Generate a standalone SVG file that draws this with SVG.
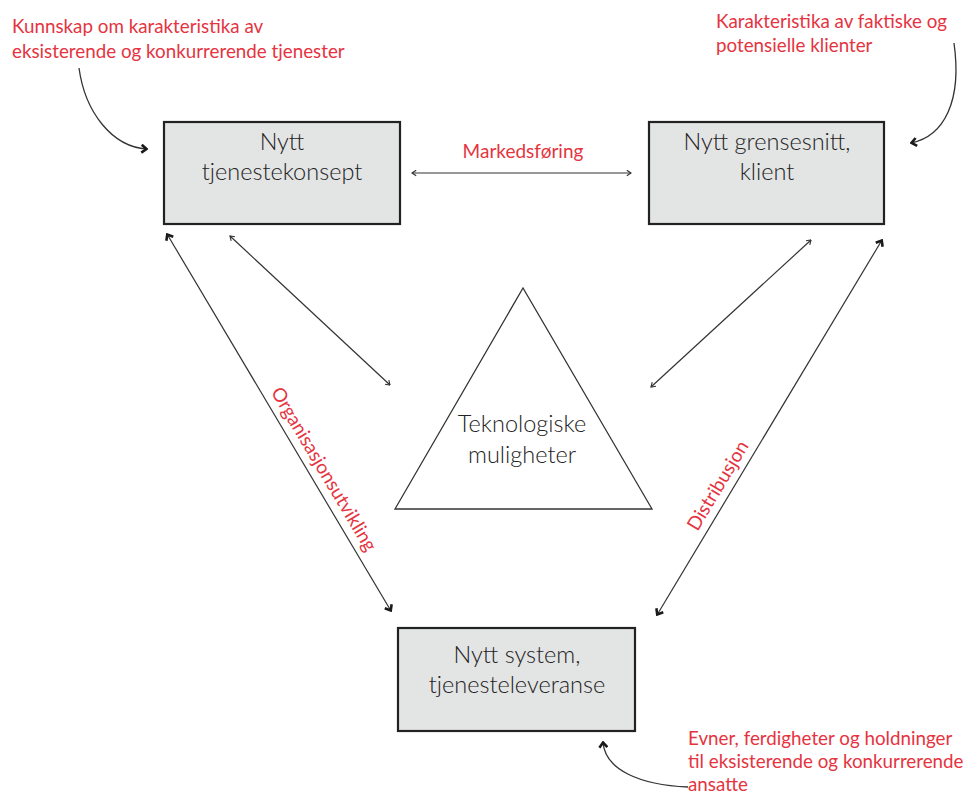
<svg xmlns="http://www.w3.org/2000/svg" width="969" height="795" viewBox="0 0 969 795">
  <style>
    .box { fill: #e3e4e4; stroke: #222; stroke-width: 2.2; }
    .tri { fill: #fff; stroke: #333; stroke-width: 1.3; }
    .nodetxt { font-family: Lato, "Open Sans", sans-serif; font-weight: 300; font-size: 23.5px; fill: #222; text-anchor: middle; }
    .note { font-family: Lato, "Open Sans", sans-serif; font-size: 18.8px; fill: #e5343f; }
    .lbl { font-family: Lato, "Open Sans", sans-serif; font-size: 19px; fill: #e5343f; text-anchor: middle; }
    .thin { fill: none; stroke: #333; stroke-width: 1.2; }
    .curve { fill: none; stroke: #333; stroke-width: 1.3; }
  </style>
  <defs>
    <marker id="head-thin" viewBox="0 0 10 10" refX="9" refY="5" markerWidth="7" markerHeight="7" markerUnits="userSpaceOnUse" orient="auto-start-reverse">
      <path d="M3,1 L9,5 L3,9" fill="none" stroke="#333" stroke-width="1.6"/>
    </marker>
    <marker id="head-bold" viewBox="0 0 10 10" refX="9" refY="5" markerWidth="10" markerHeight="10" markerUnits="userSpaceOnUse" orient="auto-start-reverse">
      <path d="M3.5,1 L8.5,5 L3.5,9" fill="none" stroke="#1a1a1a" stroke-width="2.6" stroke-linejoin="miter"/>
    </marker>
  </defs>

  <!-- connectors -->
  <g id="connectors">
    <line class="thin" x1="412" y1="173" x2="631" y2="173" marker-start="url(#head-thin)" marker-end="url(#head-thin)"/>
    <line class="thin" x1="230" y1="236" x2="390" y2="385" marker-start="url(#head-thin)" marker-end="url(#head-thin)"/>
    <line class="thin" x1="651" y1="387" x2="811" y2="240" marker-start="url(#head-thin)" marker-end="url(#head-thin)"/>
    <line class="thin" x1="167" y1="234" x2="391" y2="611" marker-start="url(#head-bold)" marker-end="url(#head-bold)"/>
    <line class="thin" x1="882" y1="240" x2="657" y2="615" marker-start="url(#head-bold)" marker-end="url(#head-bold)"/>
    <path class="curve" d="M79,68 C85,112 112,147 147,149" marker-end="url(#head-bold)"/>
    <path class="curve" d="M954,43 C962,100 945,136 911,143" marker-end="url(#head-bold)"/>
    <path class="curve" d="M688,787 C640,785 605,770 603,742" marker-end="url(#head-bold)"/>

    <text class="lbl" x="523" y="158">Markedsføring</text>
    <text class="lbl" transform="translate(311.5,476.5) rotate(59.2)" x="0" y="-8">Organisasjonsutvikling</text>
    <text class="lbl" transform="translate(730.2,493) rotate(-59)" x="0" y="-8">Distribusjon</text>
  </g>

  <!-- nodes -->
  <g id="tjenestekonsept">
    <rect class="box" x="164" y="122" width="236" height="102"/>
    <text class="nodetxt" x="282" y="150">Nytt</text>
    <text class="nodetxt" x="282" y="180">tjenestekonsept</text>
  </g>
  <g id="grensesnitt">
    <rect class="box" x="649" y="122" width="235" height="102"/>
    <text class="nodetxt" x="767" y="150">Nytt grensesnitt,</text>
    <text class="nodetxt" x="767" y="180">klient</text>
  </g>
  <g id="tjenesteleveranse">
    <rect class="box" x="398" y="628" width="237" height="103"/>
    <text class="nodetxt" x="517" y="663">Nytt system,</text>
    <text class="nodetxt" x="517" y="693">tjenesteleveranse</text>
  </g>
  <g id="teknologi">
    <polygon class="tri" points="523,288 395,509 652,509"/>
    <text class="nodetxt" x="522" y="432">Teknologiske</text>
    <text class="nodetxt" x="522" y="463">muligheter</text>
  </g>

  <g id="notes">
    <text class="note" x="12" y="33">Kunnskap om karakteristika av</text>
    <text class="note" x="12" y="58">eksisterende og konkurrerende tjenester</text>
    <text class="note" x="716" y="28">Karakteristika av faktiske og</text>
    <text class="note" x="716" y="52">potensielle klienter</text>
    <text class="note" x="688" y="745">Evner, ferdigheter og holdninger</text>
    <text class="note" x="688" y="768">til eksisterende og konkurrerende</text>
    <text class="note" x="688" y="791">ansatte</text>
  </g>
</svg>
